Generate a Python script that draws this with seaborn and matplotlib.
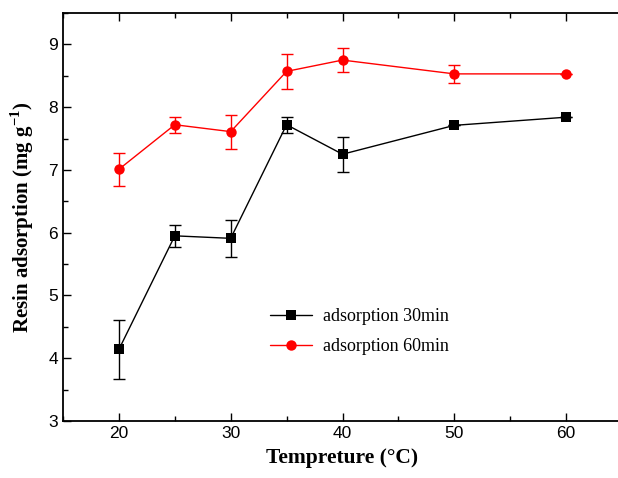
import matplotlib
matplotlib.use("Agg")
import matplotlib.pyplot as plt
from matplotlib.ticker import MultipleLocator
import seaborn as sns
import pandas as pd

temperature = [20, 25, 30, 35, 40, 50, 60]
ads_30 = [4.14, 5.95, 5.91, 7.72, 7.25, 7.71, 7.84]
err_30 = [0.47, 0.18, 0.30, 0.13, 0.28, 0.0, 0.0]
ads_60 = [7.01, 7.72, 7.61, 8.57, 8.75, 8.53, 8.53]
err_60 = [0.26, 0.13, 0.27, 0.28, 0.19, 0.14, 0.0]
labels = ["adsorption 30min", "adsorption 60min"]

df = pd.DataFrame({
    "Temperature": temperature * 2,
    "Adsorption": ads_30 + ads_60,
    "Error": err_30 + err_60,
    "Series": [labels[0]] * len(temperature) + [labels[1]] * len(temperature),
})

sns.set_style("ticks")
plt.rcParams["font.family"] = ["Liberation Sans", "DejaVu Sans"]
plt.rcParams["mathtext.fontset"] = "custom"
plt.rcParams["mathtext.rm"] = "Liberation Serif"
plt.rcParams["mathtext.bf"] = "Liberation Serif:bold"
plt.rcParams["text.color"] = "black"
plt.rcParams["axes.labelcolor"] = "black"
plt.rcParams["xtick.color"] = "black"
plt.rcParams["ytick.color"] = "black"
plt.rcParams["axes.edgecolor"] = "black"

fig = plt.figure(figsize=(6.18, 4.78), dpi=100)
ax = fig.add_axes([63 / 618, 57 / 478, 559 / 618, 408 / 478])

palette = {labels[0]: "black", labels[1]: "red"}
markers = {labels[0]: "s", labels[1]: "o"}

for name, sub in df.groupby("Series", sort=False):
    ax.errorbar(sub["Temperature"], sub["Adsorption"], yerr=sub["Error"],
                fmt="none", ecolor=palette[name], elinewidth=1.0,
                capsize=4, capthick=1.0, zorder=2)

sns.lineplot(data=df, x="Temperature", y="Adsorption", hue="Series",
             style="Series", markers=markers, dashes=False, palette=palette,
             markersize=7.5, markeredgewidth=0, linewidth=1.0, ax=ax, zorder=3,
             legend=True)

ax.set_xlim(15, 65)
ax.set_ylim(3, 9.5)
ax.xaxis.set_major_locator(MultipleLocator(10))
ax.xaxis.set_minor_locator(MultipleLocator(5))
ax.yaxis.set_major_locator(MultipleLocator(1))
ax.yaxis.set_minor_locator(MultipleLocator(0.5))
ax.tick_params(which="both", direction="in", top=True, right=False,
               labelsize=12.5, width=1.0)
ax.tick_params(which="major", length=6)
ax.tick_params(which="minor", length=3.5)
for s in ax.spines.values():
    s.set_linewidth(1.3)

serif = ["Liberation Serif", "DejaVu Serif"]
ax.set_xlabel("Tempreture (\u00b0C)", fontsize=15.5, fontweight="bold",
              family=serif, labelpad=5)
ax.set_ylabel("Resin adsorption (mg g$^{\\mathbf{-1}}$)", fontsize=15,
              fontweight="bold", family=serif, labelpad=9)

leg = ax.legend(loc="upper left", bbox_to_anchor=(0.342, 0.317), frameon=False,
                prop={"family": serif, "size": 13}, handlelength=2.3,
                handletextpad=0.6, labelspacing=0.75, title=None)

fig.savefig("out.png", dpi=100)
